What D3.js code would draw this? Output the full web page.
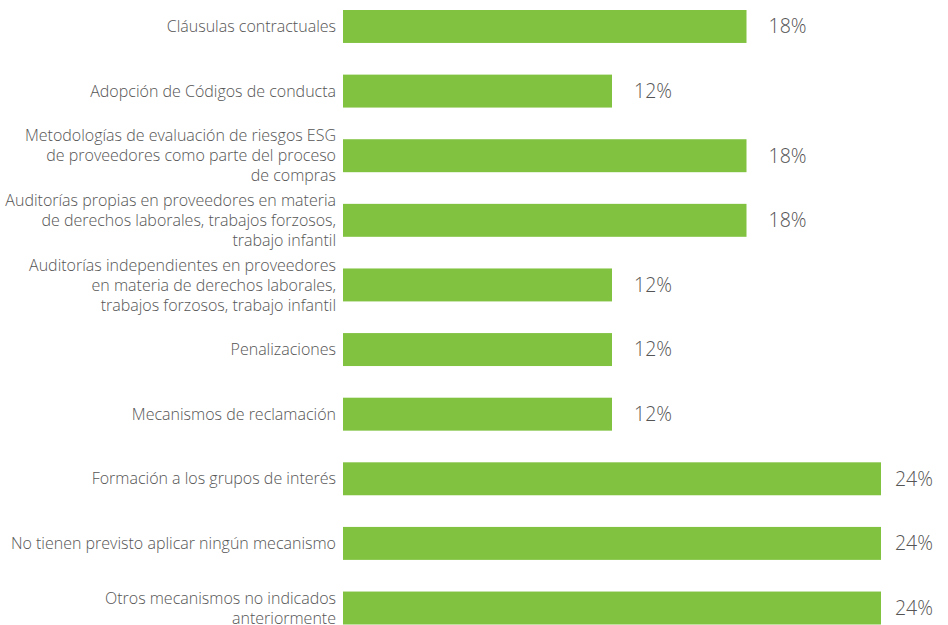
<!DOCTYPE html>
<html>
<head>
<meta charset="utf-8">
<script src="https://cdn.jsdelivr.net/npm/d3@7"></script>
<style>
  html, body { margin: 0; padding: 0; background: #fff; }
  svg { display: block; }
  text { font-family: "Open Sans", "Noto Sans", sans-serif; font-weight: 300; fill: #555; }
</style>
</head>
<body>
<svg id="chart" width="948" height="625"></svg>
<script>
// Mechanisms applied to suppliers (share of respondents)
const categories = [
  ["Cláusulas contractuales"],
  ["Adopción de Códigos de conducta"],
  ["Metodologías de evaluación de riesgos ESG", "de proveedores como parte del proceso", "de compras"],
  ["Auditorías propias en proveedores en materia", "de derechos laborales, trabajos forzosos,", "trabajo infantil"],
  ["Auditorías independientes en proveedores", "en materia de derechos laborales,", "trabajos forzosos, trabajo infantil"],
  ["Penalizaciones"],
  ["Mecanismos de reclamación"],
  ["Formación a los grupos de interés"],
  ["No tienen previsto aplicar ningún mecanismo"],
  ["Otros mecanismos no indicados", "anteriormente"]
];
const values = [18, 12, 18, 18, 12, 12, 12, 24, 24, 24];

const svg = d3.select("#chart");
const width = 948;
const left = 343;

const x = d3.scaleLinear().domain([0, 24]).range([left, 881]);
const y = d3.scaleBand()
  .domain(d3.range(categories.length))
  .range([10, 624.5])
  .paddingInner(0.49)
  .paddingOuter(0);

const rows = svg.selectAll("g.row")
  .data(values.map((v, i) => ({ v, i, label: categories[i] })))
  .join("g")
  .attr("class", "row");

rows.append("rect")
  .attr("x", x(0))
  .attr("y", d => y(d.i))
  .attr("width", d => x(d.v) - x(0))
  .attr("height", y.bandwidth())
  .attr("fill", "#81c241");

// value labels sit past the bar end, pulled in where they would run off the edge
rows.append("text")
  .attr("y", d => y(d.i) + y.bandwidth() / 2)
  .attr("dy", "0.35em")
  .style("font-size", "19.5px")
  .text(d => d.v + "%")
  .attr("x", function (d) {
    const w = this.getComputedTextLength();
    return Math.min(x(d.v) + 22, width - 15 - w);
  });

const lineH = 20;
rows.append("text")
  .attr("text-anchor", "end")
  .style("font-size", "16px")
  .each(function (d) {
    const t = d3.select(this);
    const n = d.label.length;
    const cy = y(d.i) + y.bandwidth() / 2;
    d.label.forEach((line, k) => {
      t.append("tspan")
        .attr("x", left - 7)
        .attr("y", cy + (k - (n - 1) / 2) * lineH)
        .attr("dy", "0.35em")
        .text(line);
    });
  });
</script>
</body>
</html>
